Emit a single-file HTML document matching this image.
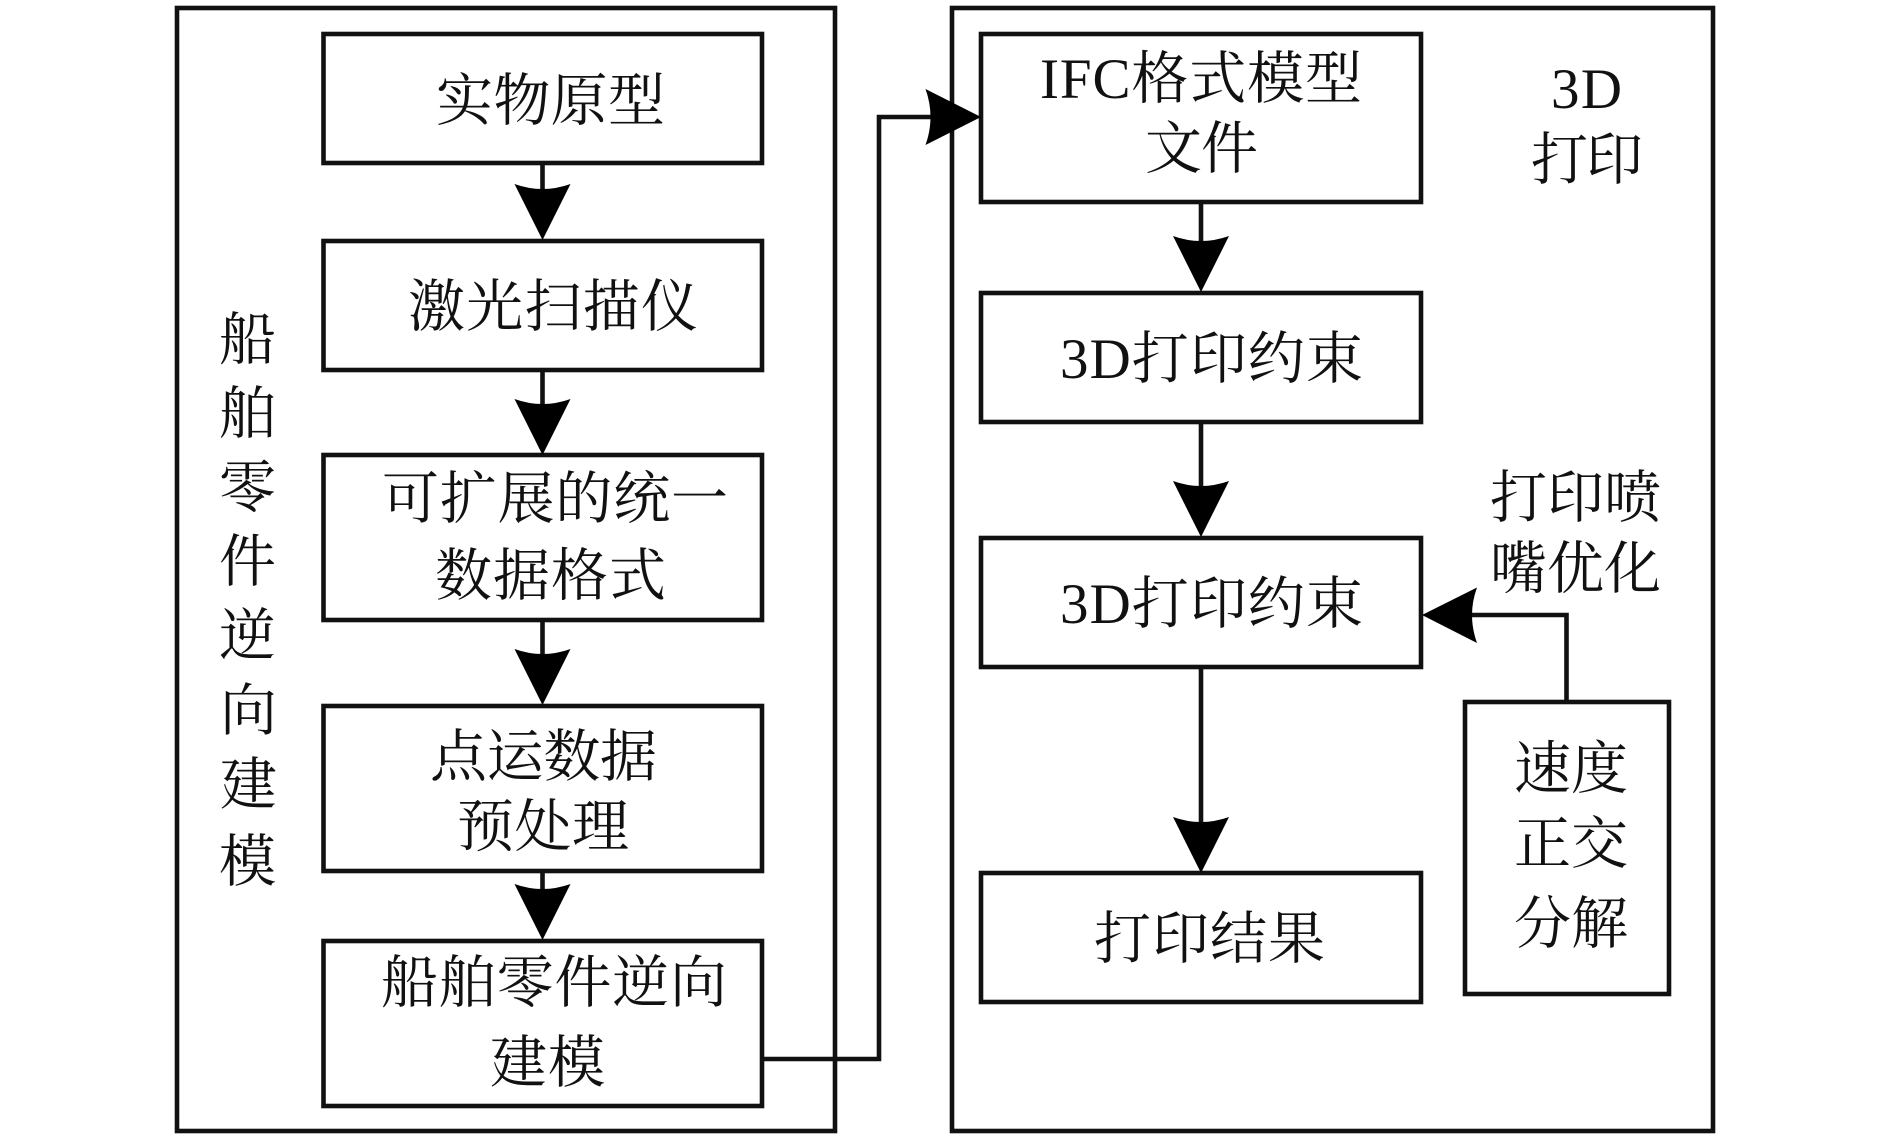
<!DOCTYPE html>
<html><head><meta charset="utf-8"><style>
html,body{margin:0;padding:0;background:#fff;width:1890px;height:1141px;overflow:hidden}
svg{display:block}
text{font-family:"Liberation Serif","Noto Serif CJK SC",serif;font-size:57px;fill:#111;font-weight:400}
rect,path.l{fill:none;stroke:#111;stroke-width:4.6}
path.a{fill:#000;stroke:none}
</style></head><body>
<svg width="1890" height="1141" viewBox="0 0 1890 1141" xmlns="http://www.w3.org/2000/svg">
<rect x="177" y="8" width="658" height="1123"/>
<rect x="952" y="8" width="761" height="1123"/>
<rect x="323.5" y="34" width="438.5" height="129"/>
<rect x="323.5" y="241" width="438.5" height="129"/>
<rect x="323.5" y="455" width="438.5" height="165"/>
<rect x="323.5" y="706" width="438.5" height="165"/>
<rect x="323.5" y="941" width="438.5" height="165"/>
<rect x="981" y="34" width="440" height="168"/>
<rect x="981" y="293" width="440" height="129"/>
<rect x="981" y="538" width="440" height="129"/>
<rect x="981" y="873" width="440" height="129"/>
<rect x="1465" y="702" width="204" height="292"/>
<path class="l" d="M542.5 163V190M542.5 370V405M542.5 620V655M542.5 871V890"/>
<path class="l" d="M1201 202V242M1201 422V487M1201 667V822"/>
<path class="l" d="M762 1059H879V117H935"/>
<path class="l" d="M1566.5 702V615H1470"/>
<path class="a" d="M542.5 240L514.5 184Q542.5 194 570.5 184Z"/>
<path class="a" d="M542.5 455L514.5 399Q542.5 409 570.5 399Z"/>
<path class="a" d="M542.5 705L514.5 649Q542.5 659 570.5 649Z"/>
<path class="a" d="M542.5 940L514.5 884Q542.5 894 570.5 884Z"/>
<path class="a" d="M1201 292L1173 236Q1201 246 1229 236Z"/>
<path class="a" d="M1201 537L1173 481Q1201 491 1229 481Z"/>
<path class="a" d="M1201 873L1173 817Q1201 827 1229 817Z"/>
<path class="a" d="M981 117L925.5 89Q935.5 117 925.5 145Z"/>
<path class="a" d="M1422 615L1477 587.5Q1467 615 1477 643Z"/>
<text x="436" y="120" textLength="229">实物原型</text>
<text x="408" y="326" textLength="290">激光扫描仪</text>
<text x="382" y="518" textLength="346">可扩展的统一</text>
<text x="435" y="595" textLength="231">数据格式</text>
<text x="430" y="776" textLength="227">点运数据</text>
<text x="457" y="846" textLength="172">预处理</text>
<text x="381" y="1002" textLength="346">船舶零件逆向</text>
<text x="490" y="1082" textLength="115">建模</text>
<text x="219" y="359">船</text>
<text x="219" y="433">舶</text>
<text x="219" y="507">零</text>
<text x="219" y="581">件</text>
<text x="219" y="655">逆</text>
<text x="220" y="730">向</text>
<text x="220" y="804">建</text>
<text x="219" y="881">模</text>
<text x="1040" y="98" textLength="322">IFC格式模型</text>
<text x="1145" y="168" textLength="113">文件</text>
<text x="1551" y="108" textLength="71">3D</text>
<text x="1531" y="179" textLength="112">打印</text>
<text x="1060" y="378" textLength="303">3D打印约束</text>
<text x="1490" y="517" textLength="171">打印喷</text>
<text x="1490" y="588" textLength="171">嘴优化</text>
<text x="1060" y="623" textLength="303">3D打印约束</text>
<text x="1514" y="788" textLength="114">速度</text>
<text x="1514" y="863" textLength="114">正交</text>
<text x="1514" y="943" textLength="114">分解</text>
<text x="1094" y="958" textLength="231">打印结果</text>
</svg>
</body></html>
